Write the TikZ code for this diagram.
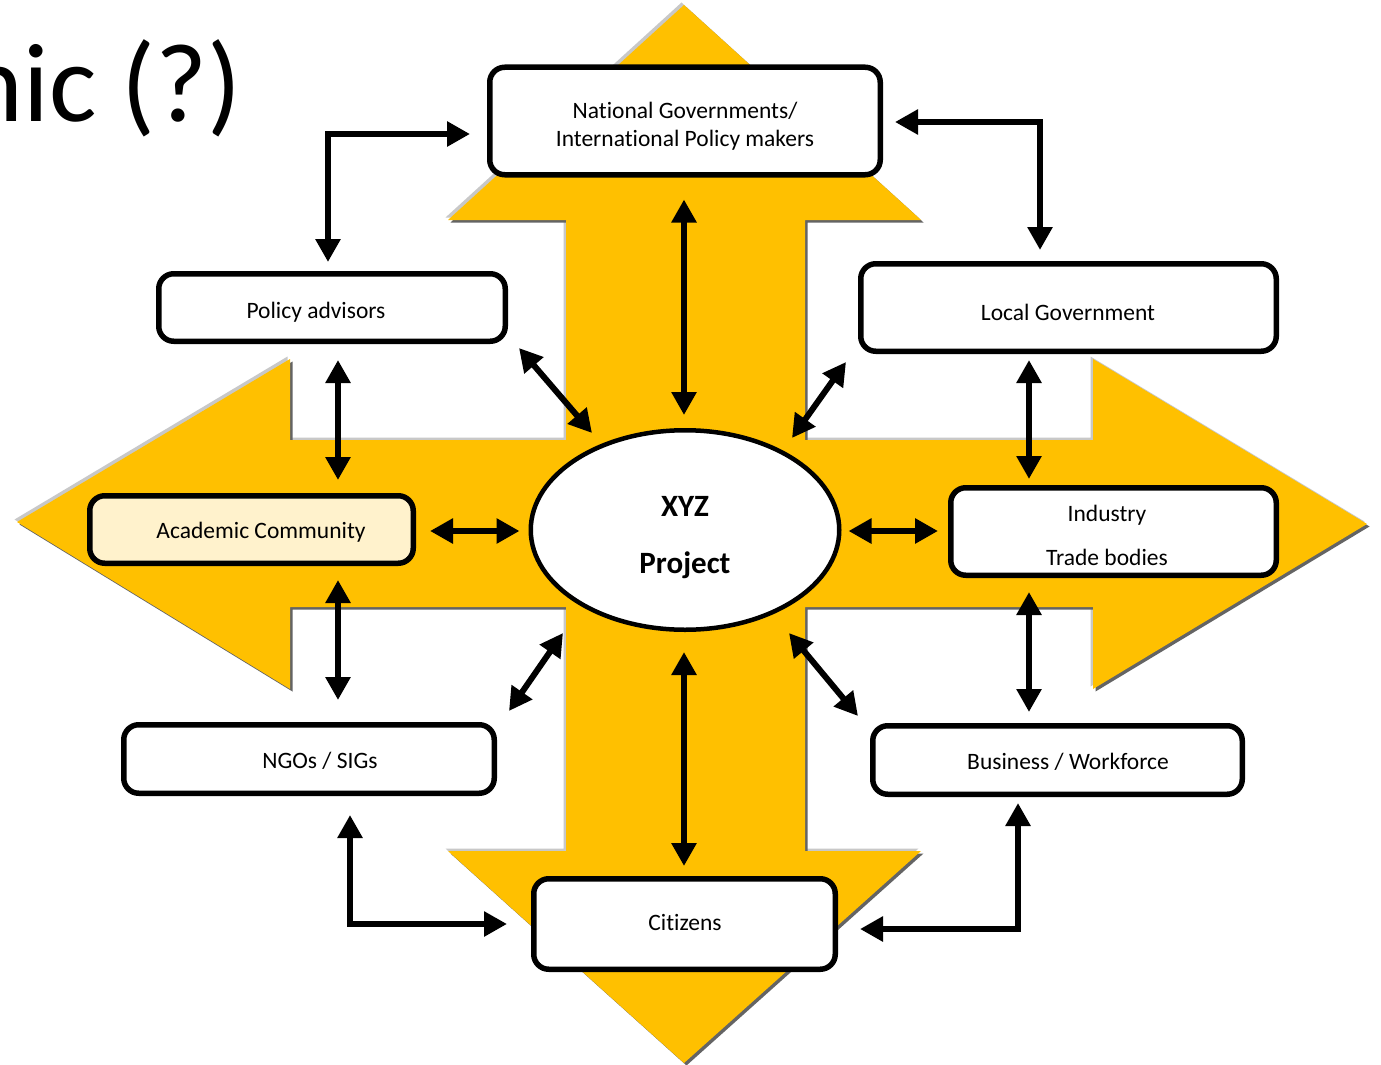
\documentclass[tikz,border=0pt]{standalone}
\usepackage{fontspec}
\setmainfont{Carlito}[Ligatures=NoCommon]
\usetikzlibrary{arrows.meta,calc,shapes.geometric}
\definecolor{gold}{RGB}{255,192,0}
\definecolor{cream}{RGB}{255,242,204}
\definecolor{shlight}{RGB}{200,200,200}
\definecolor{shdark}{RGB}{100,100,100}
\newcommand\crossfill[2]{%
  \fill[#1,shift={#2}] (684,5) -- (921,220) -- (805,220) -- (805,440) -- (1093,440) -- (1093,359)
    -- (1367,524) -- (1093,689) -- (1093,607) -- (805,607) -- (805,851) -- (921,851)
    -- (684,1063) -- (448,851) -- (566,851) -- (566,607) -- (290,607) -- (290,689)
    -- (17,522) -- (290,359) -- (290,440) -- (566,440) -- (566,220) -- (448,220) -- cycle;}
\begin{document}
\begin{tikzpicture}[x=1pt,y=-1pt,
  box/.style={draw=black, line width=5.5pt, rounded corners=15pt, fill=white, inner sep=0pt},
  lbl/.style={font=\fontsize{23.5}{28}\selectfont, align=center, inner sep=0pt},
  dconn/.style={line width=6pt, {Triangle[length=23pt,width=24pt]}-{Triangle[length=23pt,width=24pt]}},
]
\clip (0,0) rectangle (1381,1065);
\fill[white] (0,0) rectangle (1381,1065);

% title (cut at the left edge)
\node[anchor=base east, inner sep=0pt, font=\fontsize{112}{112}\selectfont] (title) at (242,121) {nic (?)};

% big four-way arrow
\crossfill{shlight}{(-2.5,-2.5)}
\crossfill{shdark}{(2.5,2.5)}
\crossfill{gold}{(0,0)}

% boxes
\node[box, minimum width=390.5pt, minimum height=107.5pt] (nat) at (685,121) {};
\node[box, minimum width=346.5pt, minimum height=67.5pt] (pa) at (332,307.5) {};
\node[box, minimum width=415.5pt, minimum height=87.5pt] (lg) at (1068.5,307.5) {};
\node[box, fill=cream, minimum width=323.5pt, minimum height=67.5pt] (ac) at (251.5,529.5) {};
\node[box, minimum width=325.5pt, minimum height=87.5pt] (ind) at (1113.5,531.5) {};
\node[box, minimum width=370.5pt, minimum height=68.5pt] (ngo) at (309,759) {};
\node[box, minimum width=369.5pt, minimum height=68.5pt] (bw) at (1057.5,760) {};
\node[box, minimum width=301.5pt, minimum height=90.5pt] (cit) at (684.5,924) {};
\node[ellipse, draw=black, line width=4.5pt, fill=white, inner sep=0pt,
      minimum width=308.5pt, minimum height=199.5pt] (proj) at (685,530) {};

% labels
\node[lbl, font=\fontsize{31}{57}\selectfont\bfseries] (tproj) at (685,538) {XYZ\\Project};
\node[lbl] (tnat) at (685,126) {National Governments/\\International Policy makers};
\node[lbl] (tpa) at (316,312) {Policy advisors};
\node[lbl] (tlg) at (1068,312) {Local Government};
\node[lbl] (tac) at (261,532) {Academic Community};
\node[lbl, font=\fontsize{23.5}{44}\selectfont] (tind) at (1107,535) {Industry\\Trade bodies};
\node[lbl] (tngo) at (320,761) {NGOs / SIGs};
\node[lbl] (tbw) at (1068,762) {Business / Workforce};
\node[lbl] (tcit) at (685,922) {Citizens};

% connectors
\draw[dconn] ($(pa.north)+(-4,-9)$) |- ($(nat.west)+(-17,13)$);
\draw[dconn] ($(nat.east)+(12,1)$) -| ($(lg.north)+(-28.5,-11)$);
\draw[dconn] ($(nat.south)+(-1,22)$) -- ($(proj.north)+(-1,-13)$);
\draw[dconn] ($(pa.south east)+(11,4)$) -- ($(proj.center)+(-93,-97)$);
\draw[dconn] ($(lg.south west)+(-12,8)$) -- ($(proj.center)+(107,-92)$);
\draw[dconn] ($(pa.south)+(6,16)$) -- ($(ac.north)+(86.5,-13)$);
\draw[dconn] ($(lg.south)+(-39.5,6)$) -- ($(ind.north)+(-84.5,-6)$);
\draw[dconn] ($(ac.east)+(14,1.5)$) -- ($(proj.west)+(-9,1)$);
\draw[dconn] ($(proj.east)+(7,1)$) -- ($(ind.west)+(-10,-0.5)$);
\draw[dconn] ($(ac.south)+(86.5,14)$) -- ($(ngo.north)+(29,-22)$);
\draw[dconn] ($(ind.south)+(-84.5,14)$) -- ($(bw.north)+(-28.5,-11)$);
\draw[dconn] ($(ngo.north east)+(12,-11)$) -- ($(proj.center)+(-122,103)$);
\draw[dconn] ($(bw.north west)+(-12,-7)$) -- ($(proj.center)+(104,103)$);
\draw[dconn] ($(proj.south)+(-1,20)$) -- ($(cit.north)+(-0.5,-10)$);
\draw[dconn] ($(ngo.south)+(41,19)$) |- ($(cit.west)+(-24,0)$);
\draw[dconn] ($(bw.south)+(-39.5,6)$) |- ($(cit.east)+(22,5)$);
\end{tikzpicture}
\end{document}
